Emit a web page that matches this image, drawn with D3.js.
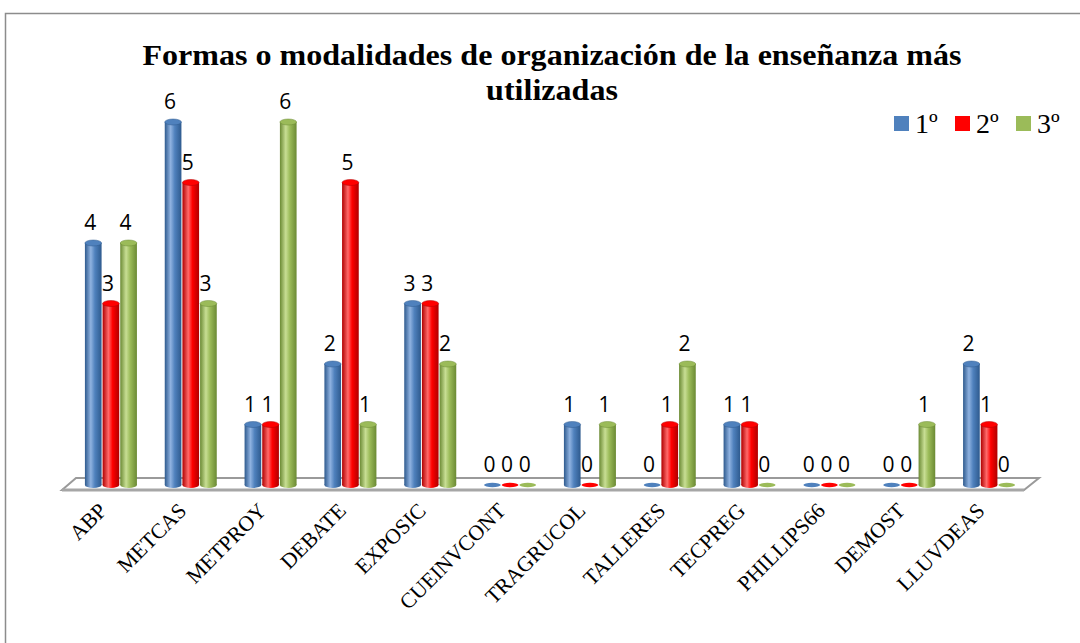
<!DOCTYPE html>
<html><head><meta charset="utf-8">
<script src="https://cdn.jsdelivr.net/npm/d3@7"></script>
<style>body{margin:0;background:#fff}svg{display:block}</style>
</head><body>
<svg id="c" width="1080" height="643"></svg>
<script>
const categories = ["ABP","METCAS","METPROY","DEBATE","EXPOSIC","CUEINVCONT","TRAGRUCOL","TALLERES","TECPREG","PHILLIPS66","DEMOST","LLUVDEAS"];
const seriesNames = ["1º","2º","3º"];
const s1 = [4,6,1,2,3,0,1,0,1,0,0,2];
const s2 = [3,5,1,5,3,0,0,1,1,0,0,1];
const s3 = [4,3,6,1,2,0,1,2,0,0,1,0];
const seriesValues = [s1,s2,s3];
const colors = ["#4F81BD","#FF0000","#9BBB59"];
const darks = ["#2E5A8E","#B00000","#6B8A34"];
const lights = ["#8FB2E0","#FF6A6A","#C8DE94"];
const titleLines = ["Formas o modalidades de organización de la enseñanza más","utilizadas"];

const SERIF = "Liberation Serif";
const svg = d3.select("#c");
svg.append("rect").attr("x",5.5).attr("y",13.5).attr("width",1200).attr("height",700)
  .attr("fill","none").attr("stroke","#8c8c8c").attr("stroke-width",1.5);

const defs = svg.append("defs");
colors.forEach((c,i)=>{
  const g = defs.append("linearGradient").attr("id","g"+i).attr("x1","0").attr("x2","1").attr("y1","0").attr("y2","0");
  g.append("stop").attr("offset","0").attr("stop-color",darks[i]);
  g.append("stop").attr("offset","0.35").attr("stop-color",lights[i]);
  g.append("stop").attr("offset","0.6").attr("stop-color",c);
  g.append("stop").attr("offset","1").attr("stop-color",darks[i]);
});

const x = d3.scaleBand().domain(categories).range([71,1029]).padding(0);
const xi = d3.scaleBand().domain(d3.range(3)).range([-26.5,26.5]).padding(0);
const y = d3.scaleLinear().domain([0,6]).range([485,122]);

const floor = d3.path();
floor.moveTo(62,490); floor.lineTo(76,478); floor.lineTo(1039,478); floor.lineTo(1024,490); floor.closePath();
svg.append("path").attr("d",floor.toString()).attr("fill","#fff").attr("stroke","#9a9a9a").attr("stroke-width",2);
svg.append("line").attr("x1",62).attr("x2",1024).attr("y1",490).attr("y2",490).attr("stroke","#a6a6a6").attr("stroke-width",3);

const bw = xi.bandwidth()-1;
const ry = 3;
const data = [];
categories.forEach((c,ci)=>seriesValues.forEach((arr,si)=>data.push({c,si,v:arr[ci]})));

const gBars = svg.append("g");
data.forEach(d=>{
  const cx = x(d.c)+x.bandwidth()/2 + xi(d.si)+xi.bandwidth()/2;
  const base = y(0);
  if(d.v===0){
    gBars.append("ellipse").attr("cx",cx).attr("cy",base).attr("rx",bw/2).attr("ry",2.2).attr("fill",colors[d.si]);
  } else {
    const top = y(d.v);
    gBars.append("ellipse").attr("cx",cx).attr("cy",base).attr("rx",bw/2).attr("ry",ry).attr("fill",`url(#g${d.si})`);
    gBars.append("rect").attr("x",cx-bw/2).attr("y",top).attr("width",bw).attr("height",base-top).attr("fill",`url(#g${d.si})`);
    gBars.append("ellipse").attr("cx",cx).attr("cy",top).attr("rx",bw/2).attr("ry",ry).attr("fill",colors[d.si])
      .attr("stroke",darks[d.si]).attr("stroke-width",0.5);
  }
});

data.forEach(d=>{
  const cx = x(d.c)+x.bandwidth()/2 + xi(d.si)+xi.bandwidth()/2;
  svg.append("text").attr("x",cx-3).attr("y",y(d.v)-13).attr("text-anchor","middle")
    .attr("font-family","Open Sans").attr("font-size",21).attr("fill","#000").text(d.v);
});

categories.forEach(c=>{
  const cx = x(c)+x.bandwidth()/2 - 3;
  svg.append("text").attr("transform",`translate(${cx},${512}) rotate(-45)`).attr("text-anchor","end")
    .attr("font-family",SERIF).attr("font-size",21.5).text(c);
});

const tNodes = titleLines.map((t,i)=>svg.append("text").attr("x",552).attr("y",65+i*35).attr("text-anchor","middle")
    .attr("font-family",SERIF).attr("font-weight","bold").attr("font-size",30).attr("fill","#000").text(t));
const w0 = tNodes[0].node().getComputedTextLength();
const k = 819/w0;
tNodes.forEach(n=>{
  const w = n.node().getComputedTextLength();
  n.attr("textLength",w*k).attr("lengthAdjust","spacingAndGlyphs");
});

const lx = [894,955,1016];
seriesNames.forEach((s,i)=>{
  svg.append("rect").attr("x",lx[i]).attr("y",116).attr("width",15).attr("height",15).attr("fill",colors[i]);
  svg.append("text").attr("x",lx[i]+21).attr("y",133).attr("font-family",SERIF)
    .attr("font-size",28).text(s);
});
</script>
</body></html>
